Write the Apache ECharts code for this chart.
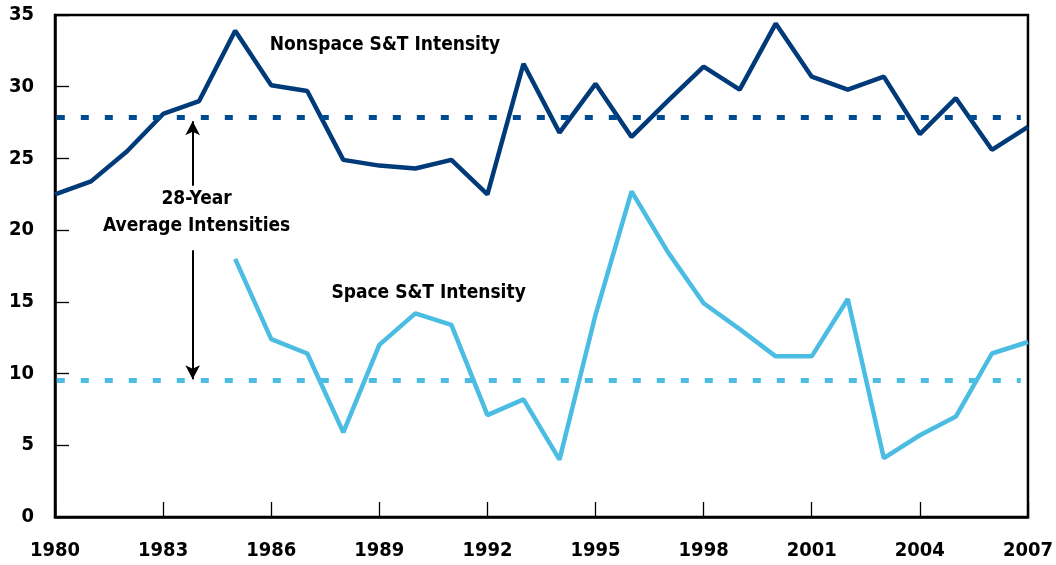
<!DOCTYPE html>
<html>
<head>
  <meta charset="utf-8">
  <title>S&amp;T Intensity</title>
  <script src="https://cdn.jsdelivr.net/npm/echarts@6/dist/echarts.min.js"></script>
  <style>
    html, body { margin: 0; padding: 0; background: #fff; }
    #chart { width: 1056px; height: 565px; }
  </style>
</head>
<body>
<div id="chart"></div>
<script>
  // data
  let years = [1980, 1981, 1982, 1983, 1984, 1985, 1986, 1987, 1988, 1989, 1990, 1991, 1992, 1993,
               1994, 1995, 1996, 1997, 1998, 1999, 2000, 2001, 2002, 2003, 2004, 2005, 2006, 2007];
  let nonspace = [22.5, 23.4, 25.5, 28.1, 29.0, 33.9, 30.1, 29.7, 24.9, 24.5, 24.3, 24.9, 22.5, 31.6,
                  26.8, 30.2, 26.5, 29.0, 31.4, 29.8, 34.4, 30.7, 29.8, 30.7, 26.7, 29.2, 25.6, 27.2];
  let space = [null, null, null, null, null, 18.0, 12.4, 11.4, 5.9, 12.0, 14.2, 13.4, 7.1, 8.2,
               4.0, 14.1, 22.7, 18.5, 14.9, 13.1, 11.2, 11.2, 15.2, 4.1, 5.7, 7.0, 11.4, 12.2];
  let avgNonspace = 27.9;
  let avgSpace = 9.5;
  let xTicks = [1980, 1983, 1986, 1989, 1992, 1995, 1998, 2001, 2004, 2007];

  let font = 'DejaVu Sans Condensed';
  let navy = '#003a78';
  let navyDot = '#004a8f';
  let sky = '#4bbde3';

  function pairs(vals) {
    let out = [];
    for (let i = 0; i < years.length; i++) {
      if (vals[i] != null) out.push([years[i], vals[i]]);
    }
    return out;
  }

  let myChart = echarts.init(document.getElementById('chart'));
  let option = {
    animation: false,
    grid: {
      left: 55, right: 25, top: 15, bottom: 48,
      show: true, borderColor: '#000', borderWidth: 2.5, backgroundColor: 'transparent'
    },
    xAxis: {
      type: 'value',
      min: 1980, max: 2007, interval: 3,
      splitLine: { show: false },
      axisLine: { lineStyle: { color: '#000', width: 2.5 } },
      axisTick: { inside: true, length: 15, lineStyle: { color: '#000', width: 1.3 },
                  customValues: xTicks },
      axisLabel: {
        customValues: xTicks,
        color: '#000', fontFamily: font, fontWeight: 'bold', fontSize: 20, margin: 24,
        formatter: function (v) { return String(v); }
      }
    },
    yAxis: {
      type: 'value',
      min: 0, max: 35, interval: 5,
      splitLine: { show: false },
      axisLine: { show: true, lineStyle: { color: '#000', width: 2.5 } },
      axisTick: { show: true, inside: true, length: 14, lineStyle: { color: '#000', width: 1.3 } },
      axisLabel: { color: '#000', fontFamily: font, fontWeight: 'bold', fontSize: 20, margin: 21 }
    },
    series: [
      {
        name: 'Nonspace S&T Intensity',
        type: 'line',
        data: pairs(nonspace),
        symbol: 'none',
        lineStyle: { color: navy, width: 4.5 },
        z: 3,
        markLine: {
          silent: true,
          symbol: ['none', 'none'],
          label: { show: false },
          lineStyle: { color: navyDot, width: 5, type: [8, 16] },
          data: [[{ coord: [1980.05, avgNonspace] }, { coord: [2006.8, avgNonspace] }]]
        }
      },
      {
        name: 'Space S&T Intensity',
        type: 'line',
        data: pairs(space),
        symbol: 'none',
        lineStyle: { color: sky, width: 4.5 },
        z: 3,
        markLine: {
          silent: true,
          symbol: ['none', 'none'],
          label: { show: false },
          lineStyle: { color: sky, width: 5, type: [8, 16] },
          data: [[{ coord: [1980.05, avgSpace] }, { coord: [2006.8, avgSpace] }]]
        }
      },
      {
        // arrows pointing to the two averages
        type: 'line',
        data: [],
        markLine: {
          silent: true,
          symbol: ['none', 'arrow'],
          symbolSize: [11, 14],
          label: { show: false },
          lineStyle: { color: '#000', width: 2, type: 'solid' },
          data: [
            [{ coord: [1983.82, 23.1] }, { coord: [1983.82, 27.6] }],
            [{ coord: [1983.82, 18.6] }, { coord: [1983.82, 9.6] }]
          ]
        }
      }
    ]
  };
  myChart.setOption(option);

  function px(x, y) { return myChart.convertToPixel({ gridIndex: 0 }, [x, y]); }
  let txt = { fill: '#000', fontFamily: font, fontWeight: 'bold', fontSize: 19 };
  let p1 = px(1985.96, 32.9);
  let p2 = px(1987.67, 15.6);
  let p3 = px(1983.93, 22.2);
  let p4 = px(1983.93, 20.3);
  myChart.setOption({
    graphic: [
      { type: 'text', x: p1[0], y: p1[1], style: Object.assign({ text: 'Nonspace S&T Intensity', align: 'left', verticalAlign: 'middle' }, txt) },
      { type: 'text', x: p2[0], y: p2[1], style: Object.assign({ text: 'Space S&T Intensity', align: 'left', verticalAlign: 'middle' }, txt) },
      { type: 'text', x: p3[0], y: p3[1], style: Object.assign({ text: '28-Year', align: 'center', verticalAlign: 'middle' }, txt) },
      { type: 'text', x: p4[0], y: p4[1], style: Object.assign({ text: 'Average Intensities', align: 'center', verticalAlign: 'middle' }, txt) }
    ]
  });
</script>
</body>
</html>
